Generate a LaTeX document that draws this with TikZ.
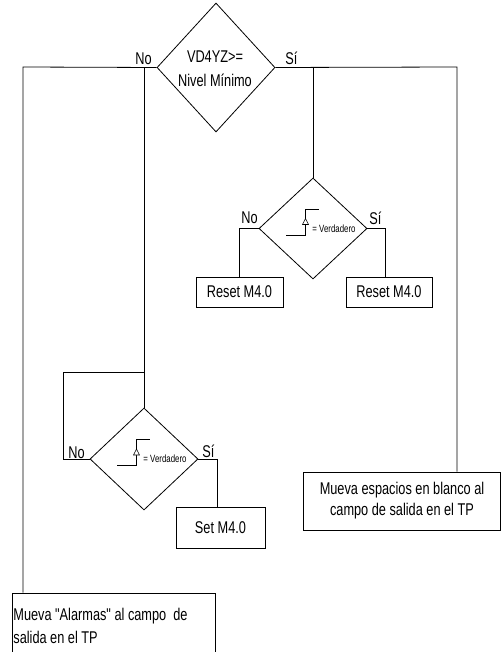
\documentclass[tikz,border=0pt]{standalone}
\usepackage{fontspec}
\newfontfamily\diagfont[FakeStretch=0.75]{Liberation Sans}
\usetikzlibrary{shapes.geometric}
\begin{document}
\begin{tikzpicture}[x=1pt,y=-1pt,line width=0.8pt,
  every node/.style={inner sep=0pt},
  big/.style={font=\diagfont\fontsize{17}{24}\selectfont},
  small/.style={font=\diagfont\fontsize{10.5}{12}\selectfont},
  decision/.style={draw,diamond},
  box/.style={draw,rectangle},
  lbl/.style={big,anchor=base west},
  risingedge/.pic={
    \draw (-27,6.5) -- (-7.5,6.5) -- (-7.5,-19.5) -- (5.5,-19.5);
    \draw[fill=white,line width=0.6pt] (-10.5,-4) -- (-7.5,-10) -- (-4.5,-4) -- cycle;
    \node[small,anchor=west] (-txt) at (-1,0) {= Verdadero};
  }]
\useasboundingbox (0,0) rectangle (501,652);

% main comparison
\node[decision,minimum width=118pt,minimum height=129pt] (cond) at (216,67.5) {};
\node[big,align=center] (condtxt) at (215,69) {VD4YZ>=\\Nivel Mínimo};

% edge tests
\node[decision,minimum width=108pt,minimum height=101pt] (edge1) at (313,228.5) {};
\pic (e1) at (edge1.center) {risingedge};
\node[decision,minimum width=108pt,minimum height=102pt] (edge2) at (144,459) {};
\pic (e2) at (edge2.center) {risingedge};

% actions
\node[box,big,minimum width=87pt,minimum height=30pt] (reset1) at (239.5,292) {Reset M4.0};
\node[box,big,minimum width=86pt,minimum height=30pt] (reset2) at (389,292) {Reset M4.0};
\node[box,big,minimum width=89pt,minimum height=41pt] (set) at (220.5,527.5) {Set M4.0};
\node[box,font=\diagfont\fontsize{17}{21}\selectfont,align=center,minimum width=197.5pt,minimum height=58pt] (blank) at (402,501)
  {Mueva espacios en blanco al\\campo de salida en el TP};
\node[box,minimum width=203pt,minimum height=70pt] (alarm) at (113.5,628) {};
\node[font=\diagfont\fontsize{17}{23}\selectfont,align=left,anchor=north west] (alarmtxt) at (13,607.5)
  {Mueva "Alarmas" al campo \ de\\salida en el TP};

% branch labels
\node[lbl] (no1) at (135,65) {No};
\node[lbl] (si1) at (285,65) {Sí};
\node[lbl] (no2) at (241,223) {No};
\node[lbl] (si2) at (369,224) {Sí};
\node[lbl] (no3) at (68,458) {No};
\node[lbl] (si3) at (202,457) {Sí};

% connectors
\coordinate (nocorner) at (23,67);
\coordinate (nojoin) at (cond.west -| edge2.north);
\draw (cond.west) -- (nocorner) -- (nocorner |- alarm.north);
\draw (nojoin) -- (edge2.north);

\coordinate (loopcorner) at (63,372);
\coordinate (loopjoin) at (edge2.north |- loopcorner);
\draw (edge2.west) -- (loopcorner |- edge2.west) -- (loopcorner) -- (loopjoin);

\coordinate (setcorner) at (217,459);
\draw (edge2.east) -- (setcorner) -- (setcorner |- set.north);

\coordinate (sicorner) at (457,67);
\draw (cond.east) -- (sicorner) -- (sicorner |- blank.north);
\draw (cond.east -| edge1.north) -- (edge1.north);

\coordinate (r1corner) at (reset1.north |- edge1.west);
\draw (edge1.west) -- (r1corner) -- (reset1.north);
\coordinate (r2corner) at (385,228.5);
\draw (edge1.east) -- (r2corner) -- (r2corner |- reset2.north);
\end{tikzpicture}
\end{document}
